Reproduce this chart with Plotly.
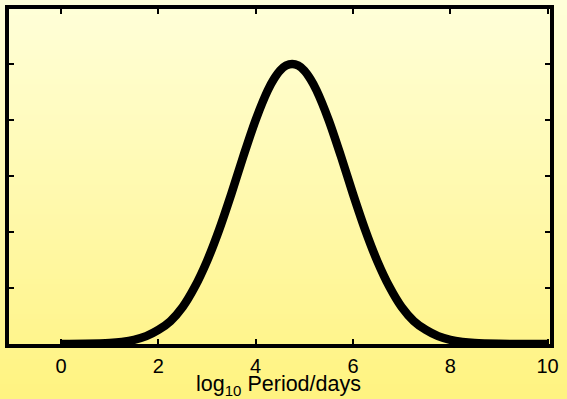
import plotly.graph_objects as go

# Data (log10 period distribution)
log_period = [0.0, 0.5, 1.0, 1.25, 1.5, 1.75, 2.0, 2.25, 2.5, 2.75, 3.0, 3.25, 3.5, 3.75,
              4.0, 4.25, 4.375, 4.5, 4.625, 4.75, 4.875, 5.0, 5.125, 5.25, 5.5, 5.75, 6.0,
              6.25, 6.5, 6.75, 7.0, 7.25, 7.5, 7.75, 8.0, 8.25, 8.5, 9.0, 9.5, 10.0]
frequency = [0.001, 0.004, 0.018, 0.038, 0.074, 0.14, 0.25, 0.41, 0.66, 1.02, 1.48, 2.04, 2.68, 3.36,
             4.0, 4.53, 4.73, 4.88, 4.97, 5.0, 4.97, 4.88, 4.73, 4.53, 4.0, 3.36, 2.68,
             2.04, 1.48, 1.02, 0.66, 0.41, 0.25, 0.14, 0.074, 0.038, 0.018, 0.004, 0.001, 0.0]
x_ticks = [0, 2, 4, 6, 8, 10]
y_ticks = [1, 2, 3, 4, 5]
x_title = "log<sub>10</sub> Period/days"

W, H = 567, 399
ML, MR, MT, MB = 9, 17, 9, 55
plot_h = H - MT - MB

fig = go.Figure()
fig.add_trace(go.Scatter(x=log_period, y=frequency, mode="lines",
                         line=dict(color="black", width=8.5, shape="spline", smoothing=0.8),
                         hoverinfo="skip", showlegend=False))

# vertical gradient background
top = (255, 255, 218)
bot = (255, 243, 128)
n = 80
shapes = []
for i in range(n):
    t = (i + 0.5) / n
    c = tuple(round(top[k] + (bot[k] - top[k]) * t) for k in range(3))
    y0_px = i * H / n
    y1_px = (i + 1) * H / n + 1
    y0 = 1 - (y0_px - MT) / plot_h
    y1 = 1 - (y1_px - MT) / plot_h
    shapes.append(dict(type="rect", xref="paper", yref="paper", x0=-0.2, x1=1.2,
                       y0=y1, y1=y0, fillcolor="rgb(%d,%d,%d)" % c,
                       line=dict(width=0), layer="below"))

fig.update_layout(
    width=W, height=H,
    margin=dict(l=ML, r=MR, t=MT, b=MB, autoexpand=False),
    paper_bgcolor="rgb(255,250,170)",
    plot_bgcolor="rgba(0,0,0,0)",
    shapes=shapes,
    font=dict(family="Liberation Sans, Arial, sans-serif", color="black", size=20),
    xaxis=dict(range=[-1.07, 10.05], tickvals=x_ticks, ticks="inside", ticklen=5,
               tickwidth=2, tickcolor="black", showline=True, linewidth=4,
               linecolor="black", mirror="ticks", showgrid=False, zeroline=False,
               tickfont=dict(size=20), ticklabelstandoff=1),
    yaxis=dict(range=[0, 5.98], tickvals=y_ticks, ticks="inside", ticklen=5,
               tickwidth=2, tickcolor="black", showline=True, linewidth=4,
               linecolor="black", mirror="ticks", showgrid=False, zeroline=False,
               showticklabels=False),
    annotations=[dict(text=x_title, xref="paper", yref="paper", x=0.498,
                      y=-(400 - 344) / plot_h, xanchor="center", yanchor="bottom",
                      showarrow=False, font=dict(size=21.5), borderpad=0)],
)

fig.write_html("out.html", config={"displayModeBar": False},
               post_script="document.body.style.margin='0';document.body.style.overflow='hidden';")
